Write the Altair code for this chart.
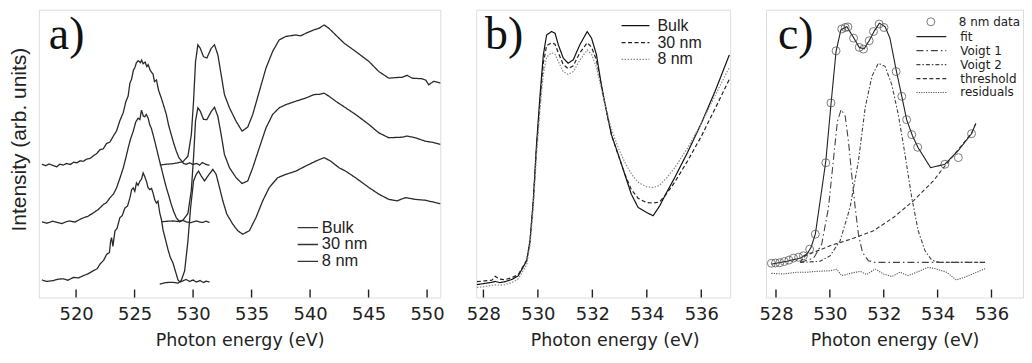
import altair as alt
import pandas as pd

# ---------------- Panel a: O K-edge spectra (offset) ----------------
a_samples = ["Bulk", "30 nm", "8 nm"]
a_ticks = [520, 525, 530, 535, 540, 545, 550]

a_bulk_pre_e = [517.08, 517.4, 517.7, 518.0, 518.35, 518.6, 518.9, 519.2, 519.5, 519.8, 520.06, 520.35, 520.62,
                520.9, 521.19, 521.5, 521.76, 522.05, 522.33, 522.6, 522.89, 523.2, 523.46, 523.75, 524.03, 524.25,
                524.45, 524.6, 524.74, 524.9, 525.02, 525.15, 525.3, 525.5, 525.6, 525.73, 525.9, 526.05, 526.16,
                526.35, 526.58, 526.7, 526.87, 527.05, 527.29, 527.5, 527.72, 527.9, 528.14, 528.35, 528.57, 528.8,
                528.99, 529.2, 529.42, 529.7, 529.99, 530.3, 530.55, 530.8, 530.98, 531.2, 531.41]
a_bulk_pre_i = [46.3, 45.8, 46.4, 45.9, 45.4, 46.3, 46.0, 46.6, 46.2, 47.0, 46.8, 47.5, 47.3,
                48.1, 48.3, 49.3, 50.0, 51.4, 51.7, 53.5, 54.0, 56.2, 57.9, 61.5, 64.2, 68.0,
                70.0, 74.5, 75.8, 79.0, 79.8, 81.5, 82.3, 81.6, 82.5, 81.2, 81.8, 80.2, 80.9,
                78.8, 77.6, 75.0, 75.6, 72.0, 69.2, 66.5, 63.5, 60.0, 56.5, 53.5, 50.8, 48.5,
                47.6, 46.5, 46.3, 46.8, 46.2, 46.6, 46.0, 46.9, 46.5, 46.1, 46.0]
a_bulk_main_e = [527.15, 527.7, 528.28, 528.7, 529.14, 529.56, 529.85, 530.04, 530.21, 530.41, 530.61, 530.89,
                 531.18, 531.55, 531.83, 532.12, 532.4, 532.68, 533.11, 533.68, 534.19, 534.67, 535.1, 535.66,
                 536.23, 536.8, 537.36, 537.93, 538.4, 538.78, 539.2, 539.63, 540.34, 540.8, 541.2, 541.62,
                 542.19, 542.9, 543.89, 545.03, 545.88, 546.73, 547.3, 547.87, 548.29, 548.72, 549.57, 549.9,
                 550.14, 550.56, 551.13]
a_bulk_main_i = [46.0, 46.3, 46.5, 46.8, 47.2, 49.1, 56.6, 68.2, 82.0, 87.8, 86.6, 83.7,
                 83.2, 86.6, 87.8, 84.3, 77.4, 70.5, 65.9, 61.2, 57.8, 59.2, 63.6, 71.6,
                 79.7, 85.5, 89.5, 90.7, 91.0, 91.2, 90.9, 91.8, 93.0, 93.6, 94.7, 93.5,
                 91.2, 88.4, 85.5, 82.0, 78.5, 76.2, 76.4, 76.5, 77.2, 76.2, 76.0, 75.5,
                 73.9, 75.1, 74.5]

a_30_pre_e = [517.08, 517.5, 518.0, 518.35, 518.8, 519.2, 519.49, 519.9, 520.3, 520.62, 521.0, 521.47, 521.9,
              522.33, 522.6, 522.89, 523.2, 523.46, 523.75, 524.03, 524.25, 524.45, 524.65, 524.88, 525.1, 525.3,
              525.45, 525.59, 525.75, 525.87, 526.0, 526.16, 526.3, 526.44, 526.65, 526.87, 527.1, 527.29, 527.5,
              527.72, 527.95, 528.14, 528.35, 528.57, 528.85, 529.1, 529.42, 529.8, 530.27, 530.6, 530.84, 531.1,
              531.41]
a_30_pre_i = [26.3, 25.8, 26.5, 26.1, 25.7, 26.4, 26.6, 26.2, 27.1, 27.7, 28.2, 29.4, 30.6,
              32.3, 33.0, 34.6, 36.0, 38.1, 41.5, 45.0, 48.5, 51.9, 55.0, 57.7, 61.0, 62.3,
              61.8, 65.1, 63.0, 62.8, 63.6, 62.3, 60.0, 58.7, 55.5, 51.9, 48.0, 45.0, 41.5,
              38.1, 35.0, 32.3, 29.8, 27.7, 26.3, 26.8, 26.3, 26.0, 26.6, 26.2, 26.1, 26.5,
              26.1]
a_30_main_e = [527.29, 527.8, 528.28, 528.7, 529.14, 529.56, 529.85, 530.04, 530.21, 530.41, 530.61, 530.89,
               531.18, 531.55, 531.83, 532.12, 532.4, 532.68, 533.11, 533.68, 534.19, 534.67, 535.1, 535.66,
               536.23, 536.8, 537.36, 537.93, 538.78, 539.63, 540.34, 540.8, 541.2, 541.62, 542.19, 543.04,
               543.89, 545.03, 545.88, 546.73, 547.3, 547.87, 548.29, 548.99, 549.85, 550.5, 551.13]
a_30_main_i = [26.3, 26.5, 26.6, 26.4, 26.9, 29.2, 37.3, 48.6, 61.4, 65.9, 64.8, 61.9,
               61.8, 64.6, 66.1, 62.9, 56.6, 49.7, 45.1, 41.6, 39.6, 40.5, 45.1, 52.0,
               58.9, 63.6, 65.9, 67.0, 68.2, 69.3, 70.5, 70.6, 71.0, 69.9, 68.2, 65.9,
               63.6, 60.1, 57.2, 55.5, 55.6, 55.7, 56.1, 55.5, 54.3, 53.9, 53.2]

a_8_pre_e = [517.08, 517.5, 518.07, 518.5, 518.92, 519.3, 519.77, 520.2, 520.62, 521.0, 521.47, 521.8, 522.04,
             522.35, 522.61, 522.85, 522.95, 523.03, 523.15, 523.32, 523.5, 523.74, 523.95, 524.17, 524.4, 524.6,
             524.75, 524.88, 525.02, 525.16, 525.3, 525.45, 525.6, 525.73, 525.87, 526.01, 526.15, 526.3, 526.45,
             526.58, 526.72, 526.87, 527.0, 527.15, 527.3, 527.43, 527.65, 527.86, 528.05, 528.28, 528.5, 528.71,
             528.9, 529.14, 529.4, 529.7, 530.0, 530.27, 530.6, 530.9, 531.1, 531.41]
a_8_pre_i = [6.1, 5.6, 5.9, 6.4, 6.5, 6.0, 7.0, 6.8, 7.6, 8.2, 9.3, 10.0, 11.6,
             12.9, 15.0, 15.6, 19.5, 20.8, 17.8, 23.1, 24.0, 27.7, 28.5, 31.1, 31.8, 34.6,
             37.5, 38.1, 36.9, 39.8, 39.0, 40.4, 41.2, 43.3, 42.0, 40.4, 38.2, 37.5, 37.9,
             36.3, 34.0, 32.8, 33.5, 29.4, 27.0, 23.5, 20.0, 16.6, 14.0, 12.0, 9.0, 6.1,
             5.4, 5.8, 6.3, 5.6, 6.1, 5.4, 5.9, 5.2, 5.7, 5.4]
a_8_main_e = [527.15, 527.7, 528.28, 528.71, 528.99, 529.28, 529.56, 529.79, 530.04, 530.27, 530.47, 530.7,
              530.98, 531.26, 531.69, 531.97, 532.26, 532.54, 532.88, 533.39, 533.82, 534.24, 534.81, 535.38,
              535.95, 536.51, 537.22, 537.93, 538.78, 539.63, 540.49, 541.2, 541.76, 542.47, 543.04, 543.89,
              545.03, 545.88, 546.73, 547.44, 548.15, 548.99, 549.85, 550.7, 551.13]
a_8_main_i = [4.7, 5.2, 5.3, 5.0, 5.9, 9.3, 19.7, 31.3, 40.5, 42.8, 43.9, 42.2,
              40.5, 42.2, 44.5, 42.8, 38.2, 33.6, 29.0, 25.5, 23.2, 22.0, 23.2, 27.8,
              33.6, 38.2, 41.6, 42.8, 43.9, 45.7, 47.4, 48.6, 47.4, 45.1, 43.9, 41.6,
              38.2, 35.9, 34.1, 33.6, 34.7, 34.1, 33.8, 33.0, 32.6]

# ---------------- Panel b: comparison near the O K-edge ----------------
b_samples = ["Bulk", "30 nm", "8 nm"]
b_ticks = [528, 530, 532, 534, 536]
b_energy = [527.76, 528.05, 528.31, 528.43, 528.6, 528.79, 529.05, 529.28, 529.59, 529.71, 529.83, 529.95, 530.08,
            530.2, 530.32, 530.5, 530.63, 530.75, 530.93, 531.11, 531.3, 531.54, 531.81, 531.97, 532.15,
            532.33, 532.52, 532.7, 532.95, 533.19, 533.43, 533.68, 533.98, 534.23, 534.47, 534.72, 535.02,
            535.5, 536.0, 536.5, 537.03]
b_bulk = [4.5, 4.9, 5.3, 5.6, 5.2, 5.5, 6.3, 7.6, 12.8, 19.7, 33.6, 53.2, 70.5,
          84.3, 91.2, 92.4, 91.8, 87.8, 83.2, 81.4, 82.6, 87.8, 92.4, 90.1, 84.4,
          73.9, 64.7, 56.6, 49.7, 42.8, 35.9, 31.3, 29.6, 28.4, 31.8, 36.4, 41.6,
          50.5, 60.5, 71.5, 84.3]
b_30nm = [5.5, 5.8, 6.0, 7.4, 6.4, 6.2, 6.9, 8.0, 13.0, 19.5, 33.0, 52.0, 68.5,
          81.5, 87.5, 88.5, 88.0, 85.0, 81.0, 79.5, 80.5, 85.0, 88.5, 87.0, 82.5,
          73.5, 64.5, 56.5, 49.5, 43.0, 37.5, 34.5, 33.0, 32.8, 33.2, 36.0, 40.0,
          47.5, 56.0, 65.5, 75.8]
b_8nm = [3.5, 3.8, 4.2, 4.4, 4.3, 4.5, 5.2, 6.5, 11.5, 18.0, 31.0, 49.5, 65.5,
         77.5, 83.5, 85.0, 84.5, 82.0, 78.5, 77.5, 78.5, 82.5, 86.0, 84.5, 80.0,
         72.5, 65.0, 58.5, 52.0, 47.0, 43.0, 40.0, 38.5, 38.2, 39.0, 41.5, 45.0,
         52.0, 60.5, 70.0, 80.0]

# ---------------- Panel c: fit of the 8 nm spectrum ----------------
c_ticks = [528, 530, 532, 534, 536]
c_components = ["fit", "Voigt 1", "Voigt 2", "threshold", "residuals"]
c_data_e = [527.83, 527.98, 528.14, 528.31, 528.48, 528.65, 528.84, 529.02, 529.25, 529.46, 529.85, 530.04,
            530.23, 530.44, 530.57, 530.67, 530.88, 531.09, 531.25, 531.46, 531.62, 531.83, 532.01, 532.46,
            532.67, 532.85, 533.04, 533.26, 534.27, 534.77, 535.26]
c_data_i = [11.9, 12.0, 12.1, 12.5, 13.0, 13.7, 14.0, 14.5, 16.8, 22.0, 46.8, 67.6,
            85.7, 93.3, 93.8, 94.0, 90.1, 86.9, 86.3, 89.2, 92.4, 95.0, 93.8, 78.5,
            69.9, 61.8, 56.6, 52.2, 46.3, 48.6, 56.9]
c_fit_e = [527.83, 528.41, 528.9, 529.15, 529.3, 529.46, 529.64, 529.85, 530.04, 530.23, 530.41, 530.63, 530.88,
           531.09, 531.27, 531.46, 531.65, 531.84, 532.05, 532.23, 532.46, 532.67, 532.85, 533.07, 533.28,
           533.74, 534.27, 534.77, 535.26, 535.42]
c_fit_i = [11.6, 12.6, 13.7, 15.1, 17.4, 22.0, 33.6, 47.4, 67.0, 85.5, 93.0, 94.1, 90.3,
           86.9, 86.4, 89.2, 92.6, 95.3, 94.1, 90.1, 79.1, 69.9, 61.8, 56.1, 52.0,
           45.1, 46.3, 51.1, 56.9, 60.5]
c_v1_e = [528.9, 529.4, 529.7, 529.95, 530.14, 530.28, 530.42, 530.57, 530.69, 530.81, 530.94, 531.06, 531.21,
          531.43, 531.68, 535.76]
c_v1_i = [12.2, 13.7, 18.6, 31.3, 48.6, 61.2, 65.3, 63.0, 54.3, 42.8, 31.3, 22.0, 15.7,
          12.8, 12.2, 12.2]
c_v2_e = [528.9, 529.64, 530.01, 530.38, 530.75, 531.06, 531.31, 531.56, 531.8, 532.05, 532.3, 532.54, 532.79,
          533.04, 533.28, 533.53, 533.78, 534.09, 535.76]
c_v2_i = [12.2, 12.6, 14.5, 19.7, 31.3, 47.4, 65.9, 76.8, 81.4, 80.3, 73.9, 63.6, 49.7,
          34.7, 23.2, 16.3, 13.0, 12.2, 12.2]
c_thr_e = [528.9, 529.09, 530.01, 530.88, 531.62, 532.36, 533.1, 533.84, 534.27, 534.77, 535.26, 535.42]
c_thr_i = [12.2, 14.5, 18.0, 20.6, 23.2, 27.8, 33.6, 40.5, 45.7, 51.4, 57.2, 60.5]
c_res_e = [527.83, 528.28, 528.78, 529.15, 529.52, 530.01, 530.26, 530.44, 530.75, 531.12, 531.37, 531.68,
           531.99, 532.3, 532.6, 532.91, 533.22, 533.65, 533.96, 534.33, 534.7, 535.07, 535.76]
c_res_i = [8.4, 8.2, 8.8, 8.8, 9.1, 9.3, 9.8, 7.6, 8.4, 9.1, 8.0, 9.9,
           8.2, 7.3, 8.8, 7.6, 8.8, 10.5, 9.9, 8.8, 6.1, 7.3, 10.0]

# ---------------- build tables ----------------
def seg(e, i, **cols):
    d = pd.DataFrame({"energy": e, "intensity": i})
    for k, v in cols.items():
        d[k] = v
    return d

dfa = pd.concat([
    seg(a_bulk_pre_e, a_bulk_pre_i, sample="Bulk", part="Bulk pre"),
    seg(a_bulk_main_e, a_bulk_main_i, sample="Bulk", part="Bulk main"),
    seg(a_30_pre_e, a_30_pre_i, sample="30 nm", part="30 pre"),
    seg(a_30_main_e, a_30_main_i, sample="30 nm", part="30 main"),
    seg(a_8_pre_e, a_8_pre_i, sample="8 nm", part="8 pre"),
    seg(a_8_main_e, a_8_main_i, sample="8 nm", part="8 main"),
])
dfb = pd.concat([
    seg(b_energy, b_bulk, sample="Bulk"),
    seg(b_energy, b_30nm, sample="30 nm"),
    seg(b_energy, b_8nm, sample="8 nm"),
])
dfc_lines = pd.concat([
    seg(c_fit_e, c_fit_i, comp="fit"),
    seg(c_v1_e, c_v1_i, comp="Voigt 1"),
    seg(c_v2_e, c_v2_i, comp="Voigt 2"),
    seg(c_thr_e, c_thr_i, comp="threshold"),
    seg(c_res_e, c_res_i, comp="residuals"),
])
dfc_pts = seg(c_data_e, c_data_i, kind="8 nm data")

H = 289
INK = "#222"
SANS = "DejaVu Sans"
LEG = "Liberation Sans"


def xaxis(values, title_x=None):
    kw = dict(values=values, ticks=False, domain=False, grid=False, format="d",
              labelFont=SANS, labelFontSize=18, labelColor=INK, labelPadding=8,
              title="Photon energy (eV)", titleFont=SANS, titleFontSize=17.5,
              titleFontWeight="normal", titleColor=INK, titleY=48, titleBaseline="alphabetic")
    if title_x is not None:
        kw["titleX"] = title_x
    return alt.Axis(**kw)


def ticks_layer(values, dom):
    return alt.Chart(pd.DataFrame({"energy": values})).mark_rule(color=INK, strokeWidth=1.4).encode(
        x=alt.X("energy:Q", scale=alt.Scale(domain=dom, nice=False, zero=False)),
        y=alt.value(H), y2=alt.value(H - 8))


def label_layer(txt, x):
    return alt.Chart(pd.DataFrame({"t": [txt]})).mark_text(
        font="Liberation Serif", fontSize=46, color="#111", align="left", baseline="alphabetic"
    ).encode(text="t:N", x=alt.value(x), y=alt.value(39))


# ---- panel a ----
dom_a = [516.82, 551.13]
ya = alt.Y("intensity:Q", scale=alt.Scale(domain=[0, 100], nice=False, zero=False),
           axis=alt.Axis(labels=False, ticks=False, domain=False, grid=False,
                         title="Intensity (arb. units)", titleFont="Liberation Sans", titleFontSize=21,
                         titleFontWeight="normal", titleColor=INK, titlePadding=9, titleY=130))
lines_a = alt.Chart(dfa).mark_line(strokeWidth=1.3, color="#2a2a2a").encode(
    x=alt.X("energy:Q", scale=alt.Scale(domain=dom_a, nice=False, zero=False), axis=xaxis(a_ticks)),
    y=ya,
    detail="part:N",
    strokeDash=alt.StrokeDash("sample:N", scale=alt.Scale(domain=a_samples, range=[[1, 0], [1, 0], [1, 0]]),
                              legend=alt.Legend(orient="none", legendX=259, legendY=210.5, title=None,
                                                symbolType="stroke", symbolSize=420, symbolStrokeWidth=1.3,
                                                symbolStrokeColor="#333", labelFont=LEG, labelFontSize=16.5,
                                                labelColor=INK, labelOffset=3, rowPadding=0, clipHeight=16.5,
                                                padding=0)),
)
panel_a = alt.layer(lines_a, ticks_layer(a_ticks, dom_a), label_layer("a)", 10)).properties(width=403, height=H)

# ---- panel b ----
dom_b = [527.733, 537.06]
b_leg = alt.Legend(orient="none", legendX=145, legendY=7.5, title=None,
                   symbolType="stroke", symbolSize=784, symbolStrokeWidth=1.3,
                   labelFont=LEG, labelFontSize=16, labelColor=INK,
                   labelOffset=7, rowPadding=0, clipHeight=17, padding=0)
lines_b = alt.Chart(dfb).mark_line(strokeWidth=1.2, clip=True).encode(
    x=alt.X("energy:Q", scale=alt.Scale(domain=dom_b, nice=False, zero=False), axis=xaxis(b_ticks, 139)),
    y=alt.Y("intensity:Q", scale=alt.Scale(domain=[0, 100], nice=False, zero=False), axis=None),
    strokeDash=alt.StrokeDash("sample:N", scale=alt.Scale(domain=b_samples, range=[[1, 0], [4, 2.5], [1.5, 1.5]]),
                              legend=b_leg),
    color=alt.Color("sample:N", scale=alt.Scale(domain=b_samples, range=["#111", "#222", "#8a8a8a"]),
                    legend=b_leg),
)
panel_b = alt.layer(lines_b, ticks_layer(b_ticks, dom_b), label_layer("b)", 9)).properties(width=255, height=H)

# ---- panel c ----
dom_c = [527.63, 537.17]
xc = alt.X("energy:Q", scale=alt.Scale(domain=dom_c, nice=False, zero=False), axis=xaxis(c_ticks))
yc = alt.Y("intensity:Q", scale=alt.Scale(domain=[0, 100], nice=False, zero=False), axis=None)
comp_leg = alt.Legend(orient="none", legendX=150, legendY=20.5, title=None, symbolType="stroke",
                      symbolSize=900, symbolStrokeWidth=1.2, labelFont=SANS, labelFontSize=12,
                      labelColor=INK, labelOffset=13, rowPadding=0, clipHeight=13.3, padding=0)
lines_c = alt.Chart(dfc_lines).mark_line(strokeWidth=1.1).encode(
    x=xc, y=yc,
    strokeDash=alt.StrokeDash("comp:N", scale=alt.Scale(
        domain=c_components, range=[[1, 0], [7, 3, 1.5, 3], [4, 2, 1.5, 2], [4, 2.5], [1.2, 1.2]]), legend=comp_leg),
    color=alt.Color("comp:N", scale=alt.Scale(domain=c_components,
                                              range=["#222", "#444", "#444", "#333", "#555"]), legend=comp_leg),
)
pts_c = alt.Chart(dfc_pts).mark_point(size=64, filled=False, strokeWidth=1.0, color="#444").encode(
    x=xc, y=yc,
    shape=alt.Shape("kind:N", scale=alt.Scale(domain=["8 nm data"], range=["circle"]),
                    legend=alt.Legend(orient="none", legendX=159.5, legendY=5.5, title=None,
                                      symbolSize=64, symbolStrokeColor="#444", symbolFillColor="white",
                                      symbolStrokeWidth=1.0, labelFont=SANS, labelFontSize=12,
                                      labelColor=INK, labelOffset=22, clipHeight=13.3, padding=0)),
)
panel_c = alt.layer(lines_c, pts_c, ticks_layer(c_ticks, dom_c), label_layer("c)", 12)).properties(width=258, height=H)

chart = alt.hconcat(panel_a, panel_b, panel_c, spacing=36, bounds="flush").resolve_scale(
    strokeDash="independent", color="independent", shape="independent"
).properties(padding={"left": 0, "top": 0, "right": 0, "bottom": 0}).configure_view(
    stroke=INK, strokeWidth=1.5
).configure(background="white")

chart.save("out.html", embed_options={"renderer": "svg", "actions": False})
